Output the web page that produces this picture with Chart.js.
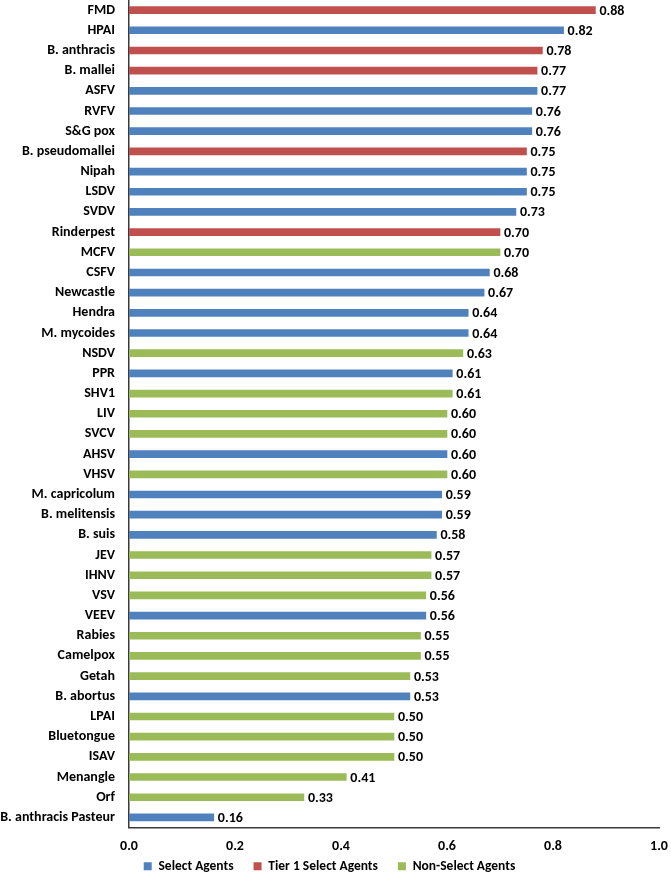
<!DOCTYPE html>
<html>
<head>
<meta charset="utf-8">
<script src="https://cdn.jsdelivr.net/npm/chart.js@4/dist/chart.umd.min.js"></script>
<style>
  html, body { margin: 0; padding: 0; background: #fff; }
  #wrap { width: 671px; height: 874px; position: relative; }
</style>
</head>
<body>
<div id="wrap"><canvas id="agentChart"></canvas></div>
<script>
const agents = ['FMD', 'HPAI', 'B. anthracis', 'B. mallei', 'ASFV', 'RVFV', 'S&G pox',
  'B. pseudomallei', 'Nipah', 'LSDV', 'SVDV', 'Rinderpest', 'MCFV', 'CSFV', 'Newcastle',
  'Hendra', 'M. mycoides', 'NSDV', 'PPR', 'SHV1', 'LIV', 'SVCV', 'AHSV', 'VHSV',
  'M. capricolum', 'B. melitensis', 'B. suis', 'JEV', 'IHNV', 'VSV', 'VEEV', 'Rabies',
  'Camelpox', 'Getah', 'B. abortus', 'LPAI', 'Bluetongue', 'ISAV', 'Menangle', 'Orf',
  'B. anthracis Pasteur'];

const scores = [0.88, 0.82, 0.78, 0.77, 0.77, 0.76, 0.76,
  0.75, 0.75, 0.75, 0.73, 0.70, 0.70, 0.68, 0.67,
  0.64, 0.64, 0.63, 0.61, 0.61, 0.60, 0.60, 0.60, 0.60,
  0.59, 0.59, 0.58, 0.57, 0.57, 0.56, 0.56, 0.55,
  0.55, 0.53, 0.53, 0.50, 0.50, 0.50, 0.41, 0.33,
  0.16];

// S = select agent, T = tier 1 select agent, N = non-select agent
const agentGroup = ['T', 'S', 'T', 'T', 'S', 'S', 'S',
  'T', 'S', 'S', 'S', 'T', 'N', 'S', 'S',
  'S', 'S', 'N', 'S', 'N', 'N', 'N', 'S', 'N',
  'S', 'S', 'S', 'N', 'N', 'N', 'S', 'N',
  'N', 'N', 'S', 'N', 'N', 'N', 'N', 'N',
  'S'];

const groupCodes = ['S', 'T', 'N'];
const groupNames = ['Select Agents', 'Tier 1 Select Agents', 'Non-Select Agents'];
const groupColors = ['#4F81BD', '#C0504D', '#9BBB59'];

const xTicks = [0, 0.2, 0.4, 0.6, 0.8, 1.0];

const fontFamily = 'Carlito, Calibri, "Liberation Sans", sans-serif';

const datasets = groupCodes.map((code, g) => ({
  label: groupNames[g],
  data: scores.map((v, i) => agentGroup[i] === code ? v : null),
  backgroundColor: groupColors[g],
  borderWidth: 0,
  barThickness: 7,
  skipNull: true
}));

// value labels at the end of each bar
const valueLabels = {
  id: 'valueLabels',
  afterDatasetsDraw(chart) {
    const ctx = chart.ctx;
    ctx.save();
    ctx.font = 'bold 14px ' + fontFamily;
    ctx.fillStyle = '#000';
    ctx.textAlign = 'left';
    ctx.textBaseline = 'middle';
    chart.data.datasets.forEach((ds, d) => {
      const meta = chart.getDatasetMeta(d);
      meta.data.forEach((bar, i) => {
        if (ds.data[i] == null) return;
        ctx.fillText(ds.data[i].toFixed(2), bar.x + 4, bar.y + 1);
      });
    });
    ctx.restore();
  }
};

new Chart(document.getElementById('agentChart').getContext('2d'), {
  type: 'bar',
  data: { labels: agents, datasets: datasets },
  options: {
    indexAxis: 'y',
    responsive: true,
    maintainAspectRatio: false,
    animation: false,
    layout: { padding: { top: 0, right: 12, left: 0, bottom: -9 } },
    plugins: {
      legend: {
        position: 'bottom',
        labels: {
          boxWidth: 8,
          boxHeight: 8,
          padding: 20,
          color: '#000',
          font: { family: fontFamily, size: 13.5, weight: 'bold' }
        }
      },
      tooltip: { enabled: false }
    },
    scales: {
      x: {
        min: 0,
        max: 1,
        afterBuildTicks: s => { s.ticks = xTicks.map(v => ({ value: v })); },
        ticks: {
          // mirrored with a negative padding: labels sit below the axis, overlapping the legend box
          mirror: true,
          padding: -26,
          color: '#000',
          font: { family: fontFamily, size: 14, weight: 'bold', lineHeight: 1 },
          callback: v => v.toFixed(1)
        },
        grid: { display: false, drawTicks: false },
        border: { display: true, color: '#3a3a3a', width: 1.5 },
        afterFit: s => { s.height = 12; s.paddingLeft = 0; s.paddingRight = 0; }
      },
      y: {
        ticks: {
          padding: 14,
          autoSkip: false,
          color: '#000',
          font: { family: fontFamily, size: 14, weight: 'bold' }
        },
        grid: { display: false, drawTicks: false },
        border: { display: true, color: '#3a3a3a', width: 1.5 },
        afterFit: s => { s.width = 129; s.paddingTop = 0; s.paddingBottom = 0; }
      }
    }
  },
  plugins: [valueLabels]
});
</script>
</body>
</html>
